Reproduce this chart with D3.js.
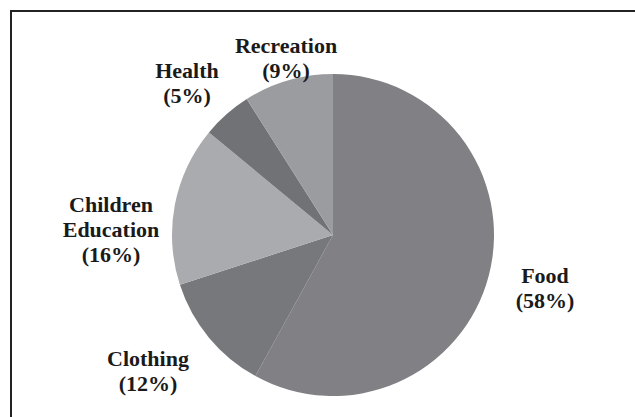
<!DOCTYPE html>
<html>
<head>
<meta charset="utf-8">
<script src="https://cdn.jsdelivr.net/npm/d3@7"></script>
<style>
  body { margin: 0; background: #fff; }
  .label { font-family: "Liberation Serif", "Times New Roman", serif; font-weight: bold; font-size: 22px; fill: #1a1a1a; }
</style>
</head>
<body>
<svg width="635" height="417"></svg>
<script>
// slice data, clockwise from 12 o'clock
var categories = ['Food', 'Clothing', 'Children Education', 'Health', 'Recreation'];
var shares = [58, 12, 16, 5, 9];
var colours = ['#818185', '#77787c', '#aaabae', '#717276', '#9b9ca0'];

var svg = d3.select('svg');
var svgWidth = +svg.attr('width');
var svgHeight = +svg.attr('height');

// frame (only top/left edges are in view)
svg.append('rect')
    .attr('x', 11).attr('y', 11)
    .attr('width', svgWidth + 20).attr('height', svgHeight + 20)
    .attr('fill', 'none')
    .attr('stroke', '#222')
    .attr('stroke-width', 2);

var cx = 333, cy = 235, radius = 161;

var pie = d3.pie().sort(null).value(function(d) { return d.share; });
var arc = d3.arc().innerRadius(0).outerRadius(radius);

var data = categories.map(function(c, i) {
    return {name: c, share: shares[i], colour: colours[i]};
});

var pieG = svg.append('g')
    .attr('transform', 'translate(' + [cx, cy] + ')');

pieG.selectAll('path')
    .data(pie(data))
    .enter()
    .append('path')
    .attr('d', arc)
    .attr('fill', function(d) { return d.data.colour; });

// label lines and where each label sits (centre x, first baseline)
var labelLines = {
    'Food': ['Food', '(58%)'],
    'Clothing': ['Clothing', '(12%)'],
    'Children Education': ['Children', 'Education', '(16%)'],
    'Health': ['Health', '(5%)'],
    'Recreation': ['Recreation', '(9%)']
};
var labelPos = {
    'Food': [545, 283],
    'Clothing': [148, 366],
    'Children Education': [111, 212],
    'Health': [187, 78],
    'Recreation': [286, 53]
};
var lineHeight = 25;

var labels = svg.selectAll('.label')
    .data(data)
    .enter()
    .append('text')
    .attr('class', 'label')
    .attr('text-anchor', 'middle')
    .attr('transform', function(d) {
        return 'translate(' + labelPos[d.name] + ')';
    });

labels.selectAll('tspan')
    .data(function(d) { return labelLines[d.name]; })
    .enter()
    .append('tspan')
    .attr('x', 0)
    .attr('y', function(d, i) { return i * lineHeight; })
    .text(function(d) { return d; });
</script>
</body>
</html>
